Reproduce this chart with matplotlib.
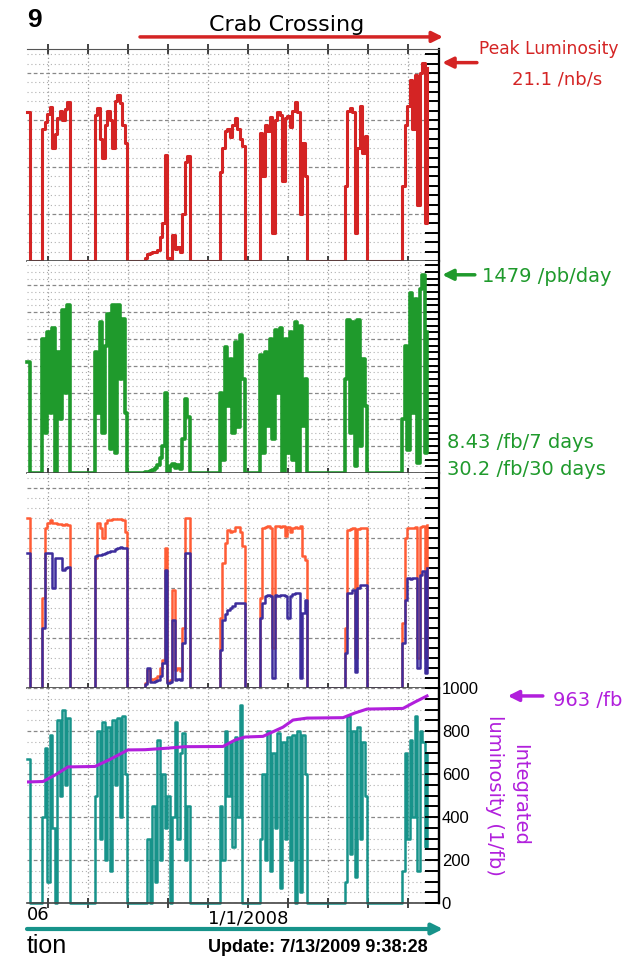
import numpy as np
import matplotlib.pyplot as plt
from matplotlib.ticker import MultipleLocator

# weekly samples, x axis in months counted from 1/1/2006
week = np.arange(161)
month = 1.9 + week / 4.0

# peak luminosity (/nb/s)
peak_lum = [
    15.9, 0, 0, 0, 0, 0, 14.0, 14.8, 15.6, 16.4,
    12.0, 13.5, 15.2, 16.0, 15.0, 16.2, 16.9, 0, 0, 0,
    0, 0, 0, 0, 0, 0, 0, 15.5, 16.3, 13.0,
    11.0, 14.5, 16.0, 15.0, 12.0, 17.0, 17.7, 16.8, 14.5, 12.5,
    0, 0, 0, 0, 0, 0, 0, 0.3, 0.7, 0.9,
    1.0, 1.0, 1.2, 2.5, 4.0, 11.3, 0.3, 0.2, 2.8, 1.3,
    1.5, 1.0, 5.0, 10.5, 11.2, 0, 0, 0, 0, 0,
    0, 0, 0, 0, 0, 0, 0, 9.5, 12.0, 13.8,
    14.0, 13.2, 14.5, 15.2, 14.0, 13.0, 12.2, 0, 0, 0,
    0, 0, 0, 13.6, 9.0, 14.5, 13.8, 15.3, 3.0, 15.0,
    15.9, 15.5, 8.5, 15.2, 15.4, 14.3, 16.0, 16.9, 15.8, 5.0,
    12.5, 9.0, 0, 0, 0, 0, 0, 0, 0, 0,
    0, 0, 0, 0, 0, 0, 0, 8.0, 16.0, 16.3,
    15.8, 3.0, 12.0, 16.5, 11.5, 13.3, 0, 0, 0, 0,
    0, 0, 0, 0, 0, 0, 0, 0, 0, 0,
    8.0, 14.5, 16.5, 19.3, 14.0, 19.8, 6.0, 20.0, 21.1, 4.0,
    20.5]

# daily integrated luminosity (/pb/day)
daily_lum = [
    830, 0, 0, 0, 0, 0, 1000, 300, 1050, 450,
    1080, 0, 900, 400, 1220, 600, 1250, 0, 0, 0,
    0, 0, 0, 0, 0, 0, 0, 900, 450, 1130,
    300, 950, 1190, 180, 1250, 150, 1250, 700, 1150, 450,
    0, 0, 0, 0, 0, 0, 0, 5, 10, 15,
    20, 40, 60, 110, 200, 600, 10, 50, 70, 40,
    60, 30, 250, 550, 420, 0, 0, 0, 0, 0,
    0, 0, 0, 0, 0, 0, 0, 600, 100, 940,
    500, 850, 300, 980, 340, 1030, 700, 0, 0, 0,
    0, 0, 0, 880, 150, 900, 350, 1000, 250, 1070,
    600, 1080, 0, 1000, 150, 1050, 100, 1130, 0, 1100,
    350, 700, 0, 0, 0, 0, 0, 0, 0, 0,
    0, 0, 0, 0, 0, 0, 0, 700, 1140, 300,
    1130, 50, 1140, 200, 850, 500, 0, 0, 0, 0,
    0, 0, 0, 0, 0, 0, 0, 0, 0, 0,
    400, 950, 170, 1340, 450, 1300, 75, 1370, 1479, 150,
    1050]

# beam currents (mA)
ler_current = [
    1700, 0, 0, 0, 0, 0, 900, 1600, 1650, 1680,
    1650, 1650, 1640, 1640, 1630, 1640, 1630, 0, 0, 0,
    0, 0, 0, 0, 0, 0, 0, 1300, 1650, 1600,
    1500, 1650, 1680, 1680, 1690, 1690, 1690, 1690, 1680, 1560,
    0, 0, 0, 0, 0, 0, 0, 50, 180, 80,
    90, 100, 120, 200, 280, 1400, 60, 80, 980, 180,
    200, 170, 600, 1700, 1700, 0, 0, 0, 0, 0,
    0, 0, 0, 0, 0, 0, 0, 700, 1250, 1450,
    1580, 1560, 1570, 1610, 1610, 1560, 1420, 0, 0, 0,
    0, 0, 0, 900, 1600, 1610, 1620, 1600, 400, 1620,
    1620, 1610, 1620, 1520, 1610, 1560, 1600, 1610, 1600, 1620,
    1320, 1280, 0, 0, 0, 0, 0, 0, 0, 0,
    0, 0, 0, 0, 0, 0, 0, 600, 1580, 1590,
    1600, 300, 1590, 1600, 1600, 1600, 0, 0, 0, 0,
    0, 0, 0, 0, 0, 0, 0, 0, 0, 0,
    650, 1500, 1600, 1600, 1600, 1610, 300, 1610, 1620, 300,
    1630]

her_current = [
    1350, 0, 0, 0, 0, 0, 600, 1350, 1350, 1350,
    1000, 1300, 1300, 1300, 1180, 1200, 1210, 0, 0, 0,
    0, 0, 0, 0, 0, 0, 0, 1320, 1330, 1330,
    1340, 1350, 1360, 1370, 1370, 1390, 1400, 1410, 1400, 1400,
    0, 0, 0, 0, 0, 0, 0, 40, 200, 60,
    60, 70, 80, 120, 250, 1180, 50, 60, 680, 80,
    90, 80, 450, 1350, 1350, 0, 0, 0, 0, 0,
    0, 0, 0, 0, 0, 0, 0, 380, 680, 740,
    780, 800, 820, 850, 850, 850, 850, 0, 0, 0,
    0, 0, 0, 700, 850, 920, 930, 920, 100, 930,
    920, 930, 930, 920, 700, 920, 940, 950, 950, 100,
    750, 880, 0, 0, 0, 0, 0, 0, 0, 0,
    0, 0, 0, 0, 0, 0, 0, 350, 950, 950,
    980, 160, 1000, 1030, 1030, 1030, 0, 0, 0, 0,
    0, 0, 0, 0, 0, 0, 0, 0, 0, 0,
    450, 880, 1100, 1090, 1100, 1100, 200, 1130, 1170, 150,
    1200]

# bottom panel trace (left scale cut off, 0-100)
lum_shift = [
    67, 0, 0, 0, 0, 0, 40, 72, 10, 78,
    35, 0, 85, 50, 90, 55, 86, 0, 0, 0,
    0, 0, 0, 0, 0, 0, 0, 50, 80, 30,
    84, 20, 82, 15, 85, 55, 86, 40, 87, 60,
    0, 0, 0, 0, 0, 0, 0, 0, 30, 0,
    45, 10, 76, 20, 60, 35, 50, 0, 40, 84,
    30, 70, 79, 20, 45, 0, 0, 0, 0, 0,
    0, 0, 0, 0, 0, 0, 0, 45, 20, 80,
    50, 75, 26, 77, 40, 92, 0, 0, 0, 0,
    0, 0, 0, 30, 60, 20, 80, 15, 70, 35,
    79, 7, 75, 30, 77, 20, 78, 0, 80, 5,
    78, 60, 0, 0, 0, 0, 0, 0, 0, 0,
    0, 0, 0, 0, 0, 0, 0, 10, 87, 23,
    80, 12, 82, 30, 75, 50, 0, 0, 0, 0,
    0, 0, 0, 0, 0, 0, 0, 0, 0, 0,
    15, 70, 30, 76, 40, 87, 15, 80, 75, 26,
    70]

# integrated luminosity (1/fb)
integ_month = [1.9, 3.5, 4.7, 6.0, 8.7, 10.2, 12.0, 13.7, 15.9, 17.7, 21.5, 22.7,
               23.7, 25.5, 27.5, 28.5, 29.9, 33.5, 34.7, 35.9, 39.5, 40.7, 41.9]
integ_lum = [563, 565, 595, 633, 635, 668, 712, 713, 720, 727, 728, 758,
             772, 775, 818, 851, 860, 862, 884, 902, 905, 935, 963]

tick_months = [4, 8, 12, 16, 20, 24, 28, 32, 36, 40]
tick_labels = ["", "", "", "", "", "1/1/2008", "", "", "", ""]

RED = "#d42424"
GREEN = "#1f9a2c"
ORANGE = "#ff5c35"
NAVY = "#3d2d9c"
TEAL = "#17938a"
MAGENTA = "#b11fdc"

W, H = 622, 957
fig = plt.figure(figsize=(W / 100, H / 100), dpi=100)


def fx(x):
    return x / W


def fy(y):
    return 1 - y / H


def box(x0, y0, x1, y1):
    return [fx(x0), fy(y1), (x1 - x0) / W, (y1 - y0) / H]


ax1 = fig.add_axes(box(27, 49, 439, 261))
ax2 = fig.add_axes(box(27, 261, 439, 473))
ax3 = fig.add_axes(box(27, 473, 439, 688))
ax4 = fig.add_axes(box(27, 688, 439, 903))


def style(ax, top, major, minor):
    ax.set_xlim(1.9, 43.1)
    ax.set_ylim(0, top)
    ax.set_xticks(tick_months)
    ax.set_xticklabels([])
    ax.yaxis.set_major_locator(MultipleLocator(major))
    ax.yaxis.set_minor_locator(MultipleLocator(minor))
    ax.yaxis.tick_right()
    ax.tick_params(axis="y", which="both", direction="in", length=10,
                   width=1.4, color="black", labelright=False)
    ax.tick_params(axis="x", direction="inout", length=7, width=1.2, color="#222222")
    ax.grid(axis="y", which="major", ls=(0, (3, 2)), color="#888888", lw=0.9)
    ax.grid(axis="y", which="minor", ls=(0, (1, 2.5)), color="#b0b0b0", lw=0.8)
    ax.grid(axis="x", which="major", ls=(0, (1, 2)), color="#999999", lw=0.9)
    ax.spines["left"].set_visible(False)
    ax.spines["top"].set_visible(False)
    ax.spines["right"].set_color("black")
    ax.spines["right"].set_linewidth(1.6)
    ax.spines["bottom"].set_color("#444444")
    ax.spines["bottom"].set_linewidth(1.2)


style(ax1, 22.55, 5, 1)
style(ax2, 1582, 200, 50)
style(ax3, 2150, 500, 100)
style(ax4, 100, 20, 5)

ax1.spines["top"].set_visible(True)
ax1.spines["top"].set_color("#555555")
ax1.tick_params(axis="x", top=True)

ax1.plot(month, peak_lum, color=RED, lw=2.2, drawstyle="steps-post", clip_on=False)
ax2.plot(month, daily_lum, color=GREEN, lw=2.6, drawstyle="steps-post", clip_on=False)
ax3.plot(month, ler_current, color=ORANGE, lw=1.8, drawstyle="steps-post", clip_on=False)
ax3.plot(month, her_current, color=NAVY, lw=1.8, drawstyle="steps-post", clip_on=False)
ax4.plot(month, lum_shift, color=TEAL, lw=1.8, drawstyle="steps-post", clip_on=False)

ax4b = ax4.twinx()
ax4.tick_params(axis="y", which="both", length=0, labelleft=False, labelright=False)
ax4b.set_xlim(1.9, 43.1)
ax4b.set_ylim(0, 1000)
ax4b.yaxis.set_major_locator(MultipleLocator(200))
ax4b.yaxis.set_minor_locator(MultipleLocator(50))
ax4b.tick_params(axis="y", which="both", direction="in", length=10, width=1.4,
                 color="black", pad=2, labelsize=12)
for lab in ax4b.get_yticklabels():
    lab.set_family("Liberation Sans")
for side in ["left", "top", "bottom"]:
    ax4b.spines[side].set_visible(False)
ax4b.spines["right"].set_linewidth(1.6)
ax4b.plot(integ_month, integ_lum, color=MAGENTA, lw=2.2)

ax4.set_xticklabels(tick_labels, fontsize=13)
ax4.tick_params(axis="x", pad=1)

arrow = dict(arrowstyle="-|>", lw=2.5, mutation_scale=16, shrinkA=0, shrinkB=0)

# crab crossing marker
ax1.annotate("", xy=(43.5, 1.057), xytext=(13.2, 1.057), xycoords=ax1.get_xaxis_transform(),
             arrowprops=dict(arrow, color=RED), annotation_clip=False)
fig.text(fx(287), fy(25), "Crab Crossing", fontsize=16, ha="center", va="center")
fig.text(fx(27), fy(20), "9", fontsize=19, fontweight="bold", family="Liberation Sans",
         ha="left", va="center")

# right-hand annotations
ax1.annotate("", xy=(1.008, 21.1), xytext=(1.092, 21.1), xycoords=ax1.get_yaxis_transform(),
             arrowprops=dict(arrow, color=RED), annotation_clip=False)
fig.text(fx(479), fy(49), "Peak Luminosity", color=RED, fontsize=12.3, ha="left", va="center")
fig.text(fx(557), fy(79), "21.1 /nb/s", color=RED, fontsize=13, ha="center", va="center")

ax2.annotate("", xy=(1.008, 1479), xytext=(1.087, 1479), xycoords=ax2.get_yaxis_transform(),
             arrowprops=dict(arrow, color=GREEN), annotation_clip=False)
fig.text(fx(482), fy(277), "1479 /pb/day", color=GREEN, fontsize=14, ha="left", va="center")
fig.text(fx(447), fy(442), "8.43 /fb/7 days", color=GREEN, fontsize=14, ha="left", va="center")
fig.text(fx(447), fy(469), "30.2 /fb/30 days", color=GREEN, fontsize=14, ha="left", va="center")

ax4b.annotate("", xy=(1.167, 963), xytext=(1.252, 963), xycoords=ax4b.get_yaxis_transform(),
              arrowprops=dict(arrow, color=MAGENTA), annotation_clip=False)
fig.text(fx(553), fy(700), "963 /fb", color=MAGENTA, fontsize=14, ha="left", va="center")
fig.text(fx(507), fy(795), "Integrated\nluminosity (1/fb)", color=MAGENTA, fontsize=14,
         rotation=270, ha="center", va="center", multialignment="center", linespacing=1.45)

# bottom strip
fig.text(fx(27), fy(915), "06", fontsize=13, ha="left", va="center")
ax4.annotate("", xy=(43.5, fy(929)), xytext=(1.9, fy(929)), xycoords=("data", "figure fraction"),
             arrowprops=dict(arrow, color=TEAL, lw=3), annotation_clip=False)
fig.text(fx(27), fy(946), "tion", fontsize=18, family="Liberation Sans", ha="left", va="center")
fig.text(fx(208), fy(948), "Update: 7/13/2009 9:38:28", fontsize=13, fontweight="bold",
         family="Liberation Sans", ha="left", va="center")

fig.savefig("out.png", dpi=100)
